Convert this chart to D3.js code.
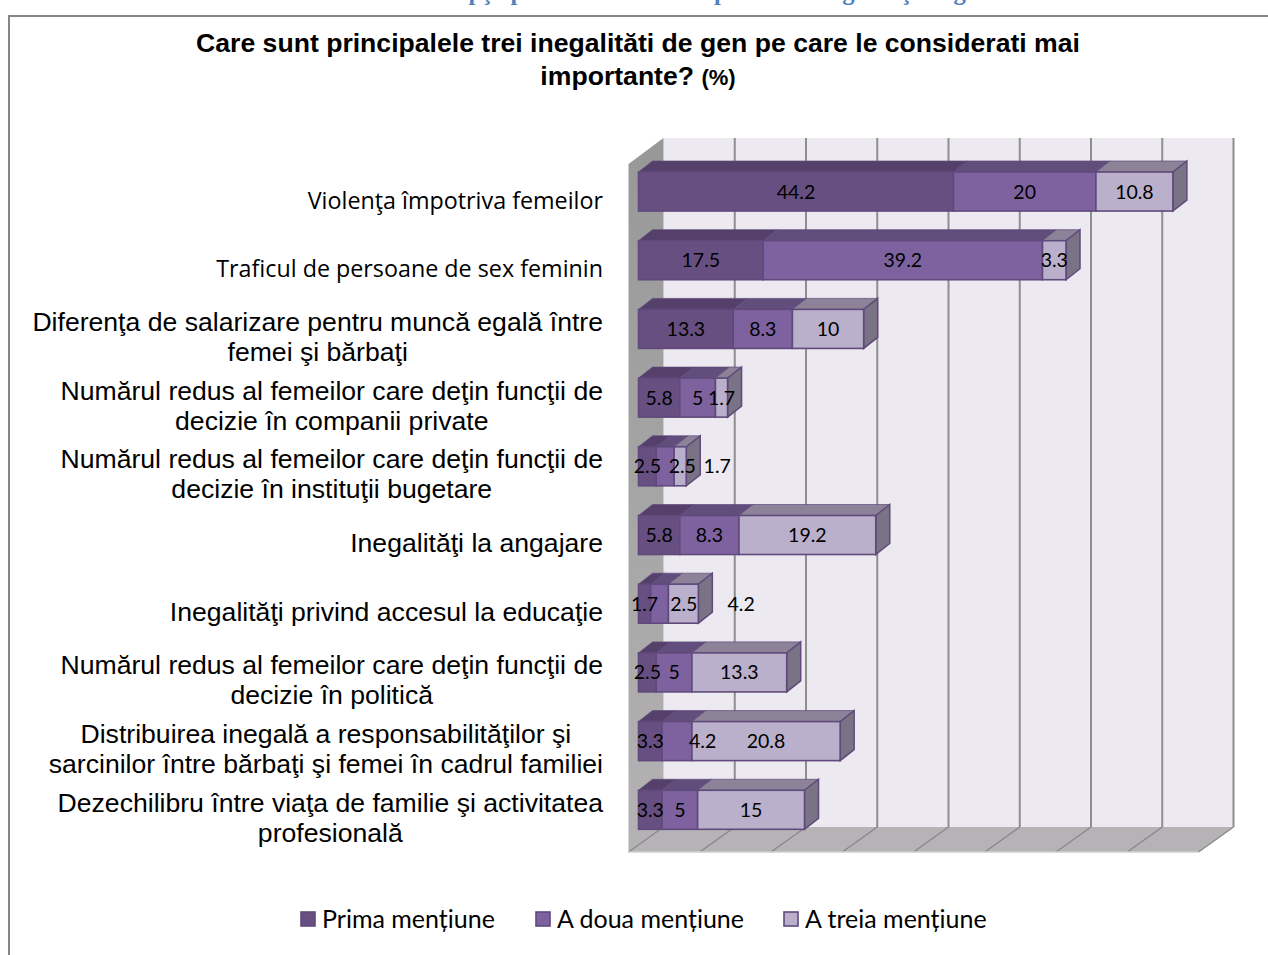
<!DOCTYPE html>
<html>
<head>
<meta charset="utf-8">
<script src="https://cdn.jsdelivr.net/npm/d3@7"></script>
<style>
  html, body { margin: 0; padding: 0; background: #fff; overflow: hidden; }
  svg { display: block; }
</style>
</head>
<body>
<svg class="Chart"></svg>
<script>
/* values */
const categories = [
  ["Violenţa împotriva femeilor"],
  ["Traficul de persoane de sex feminin"],
  ["Diferenţa de salarizare pentru muncă egală între", "femei şi bărbaţi"],
  ["Numărul redus al femeilor care deţin funcţii de", "decizie în companii private"],
  ["Numărul redus al femeilor care deţin funcţii de", "decizie în instituţii bugetare"],
  ["Inegalităţi la angajare"],
  ["Inegalităţi privind accesul la educaţie"],
  ["Numărul redus al femeilor care deţin funcţii de", "decizie în politică"],
  ["Distribuirea inegală a responsabilităţilor şi", "sarcinilor între bărbaţi şi femei în cadrul familiei"],
  ["Dezechilibru între viaţa de familie şi activitatea", "profesională"]
];
const openSansRows = [0, 1];
const series = ["Prima mențiune", "A doua mențiune", "A treia mențiune"];
const prima = [44.2, 17.5, 13.3, 5.8, 2.5, 5.8, 1.7, 2.5, 3.3, 3.3];
const aDoua = [20, 39.2, 8.3, 5, 2.5, 8.3, 2.5, 5, 4.2, 5];
const aTreia = [10.8, 3.3, 10, 1.7, 1.7, 19.2, 4.2, 13.3, 20.8, 15];
const ticks = [0, 10, 20, 30, 40, 50, 60, 70, 80];
// the few labels that were dragged off their segment, in axis units: row_series
const labelNudge = { "4_1": 2.4, "4_2": 5.2, "6_1": 3.4, "6_2": 8.1, "8_1": 3.6 };

const fills = ["#674f82", "#7e62a0", "#bab0cb"];
const tops = ["#54406a", "#624e7c", "#8c8398"];
const sideFill = "#7a7285";
const outline = "#604a7b";

const width = 1268;
const height = 955;
const svg = d3.select('.Chart').attr('width', width).attr('height', height);

const sans = "'Liberation Sans', Arial, sans-serif";
const calibri = "Lato, sans-serif";

const x = d3.scaleLinear().domain([0, 80]).range([638.5, 1208.5]);
const y = d3.scaleBand().domain(d3.range(categories.length)).range([172, 829.3]).paddingInner(0.432);

// 3d offsets
const barDx = 14, barDy = 11;
const wallX = -10, backX = 25;
const backTop = 138, backBottom = 827, frontBottom = 852;
const wallDy = frontBottom - backBottom;

const defs = svg.append('defs');
const wallGrad = defs.append('linearGradient').attr('id', 'wall').attr('x2', 0).attr('y2', 1);
wallGrad.append('stop').attr('offset', 0).attr('stop-color', '#989898');
wallGrad.append('stop').attr('offset', 1).attr('stop-color', '#b4b2b4');

// clipped heading of the page behind the chart
svg.append('text')
  .attr('x', 626).attr('y', 0)
  .attr('text-anchor', 'middle')
  .attr('font-family', "'Liberation Serif', serif")
  .attr('font-weight', 'bold').attr('font-size', 24.7)
  .attr('fill', '#4f81bd')
  .text("Graficul nr. 4 Percepţii privind cele mai importante inegalităţi de gen");

// chart frame, runs off the page right and below
svg.append('rect')
  .attr('x', 9).attr('y', 16).attr('width', width + 20).attr('height', height + 20)
  .attr('fill', '#fff').attr('stroke', '#868686').attr('stroke-width', 2);

const title = svg.append('text')
  .attr('text-anchor', 'middle')
  .attr('font-family', sans).attr('font-weight', 'bold').attr('font-size', 26.6).attr('fill', '#000');
title.append('tspan').attr('x', 638).attr('y', 52)
  .text("Care sunt principalele trei inegalităti de gen pe care le considerati mai");
const title2 = title.append('tspan').attr('x', 638).attr('y', 85);
title2.append('tspan').text("importante? ");
title2.append('tspan').attr('font-size', 22).text("(%)");

// back wall, side wall, floor
const x0 = x(0), xMax = x(80);
svg.append('rect')
  .attr('x', x0 + backX).attr('y', backTop)
  .attr('width', xMax - x0).attr('height', backBottom - backTop)
  .attr('fill', '#ece9f1');
svg.append('path')
  .attr('d', d3.line()([[x0 + wallX, backTop + wallDy + 1], [x0 + backX, backTop], [x0 + backX, backBottom], [x0 + wallX, frontBottom]]) + 'Z')
  .attr('fill', 'url(#wall)');
svg.append('path')
  .attr('d', d3.line()([[x0 + wallX, frontBottom], [xMax + wallX, frontBottom], [xMax + backX, backBottom], [x0 + backX, backBottom]]) + 'Z')
  .attr('fill', '#b6b3b6');

// gridlines up the back wall and across the floor
svg.append('g').selectAll('line.grid').data(ticks.slice(1)).enter().append('line')
  .attr('x1', d => x(d) + backX).attr('x2', d => x(d) + backX)
  .attr('y1', backTop).attr('y2', backBottom)
  .attr('stroke', '#8e8e8e').attr('stroke-width', 2);
svg.append('g').selectAll('line.floor').data(ticks).enter().append('line')
  .attr('x1', d => x(d) + wallX).attr('x2', d => x(d) + backX)
  .attr('y1', frontBottom).attr('y2', backBottom)
  .attr('stroke', '#868686').attr('stroke-width', 1.2);
svg.append('line')
  .attr('x1', x0 + wallX).attr('x2', xMax + wallX)
  .attr('y1', frontBottom).attr('y2', frontBottom)
  .attr('stroke', '#cfcfcf').attr('stroke-width', 1.5);

// stacked segments
const rows = categories.map((c, i) => {
  const vals = [prima[i], aDoua[i], aTreia[i]];
  let sum = 0;
  return vals.map((v, s) => {
    const seg = { row: i, s: s, v: v, start: sum, end: sum + v };
    sum += v;
    return seg;
  });
});

const bh = y.bandwidth();
const rowG = svg.append('g').selectAll('g').data(rows).enter().append('g');

rowG.selectAll('path.top').data(d => d).enter().append('path')
  .attr('d', d => {
    const yy = y(d.row);
    return d3.line()([[x(d.start), yy], [x(d.start) + barDx, yy - barDy], [x(d.end) + barDx, yy - barDy], [x(d.end), yy]]) + 'Z';
  })
  .attr('fill', d => tops[d.s]).attr('stroke', outline).attr('stroke-width', 1)
  .attr('stroke-opacity', 0.7);

rowG.append('path')
  .datum(d => d[2])
  .attr('d', d => {
    const yy = y(d.row), xe = x(d.end);
    return d3.line()([[xe, yy], [xe + barDx, yy - barDy], [xe + barDx, yy + bh - barDy], [xe, yy + bh]]) + 'Z';
  })
  .attr('fill', sideFill).attr('stroke', outline).attr('stroke-width', 1.5);

rowG.selectAll('rect').data(d => d).enter().append('rect')
  .attr('x', d => x(d.start)).attr('y', d => y(d.row))
  .attr('width', d => x(d.end) - x(d.start)).attr('height', bh)
  .attr('fill', d => fills[d.s]).attr('stroke', outline).attr('stroke-width', 1.6);

// data labels go last so they sit over every bar
svg.append('g').selectAll('text').data(rows.flat()).enter().append('text')
  .attr('x', d => x((d.start + d.end) / 2 + (labelNudge[d.row + '_' + d.s] || 0)))
  .attr('y', d => y(d.row) + bh / 2 + 7)
  .attr('text-anchor', 'middle')
  .attr('font-family', calibri).attr('font-size', 19.5).attr('fill', '#000')
  .text(d => d.v);

// category labels: lines centred on each other, block flush right
categories.forEach((lines, i) => {
  const open = openSansRows.includes(i);
  const lh = 30;
  const cy = y(i) + bh / 2 + 8;
  const texts = lines.map((line, k) => svg.append('text')
    .attr('y', cy + (k - (lines.length - 1) / 2) * lh + 9)
    .attr('font-family', open ? "'Open Sans', sans-serif" : sans)
    .attr('font-size', open ? 23.3 : 26.6)
    .attr('fill', '#000')
    .text(line));
  const widths = texts.map(t => t.node().getComputedTextLength());
  const w = d3.max(widths);
  texts.forEach((t, k) => t.attr('x', 603 - w / 2).attr('text-anchor', 'middle'));
});

// legend
const legendX = [300, 535, 783];
const legend = svg.append('g').selectAll('g').data(series).enter().append('g')
  .attr('transform', (d, i) => `translate(${legendX[i]},919)`);
legend.append('rect')
  .attr('x', 1).attr('y', -7).attr('width', 14).attr('height', 14)
  .attr('fill', (d, i) => fills[i]).attr('stroke', outline).attr('stroke-width', 1.6);
legend.append('text')
  .attr('x', 22).attr('y', 9)
  .attr('font-family', calibri).attr('font-size', 25).attr('fill', '#000')
  .text(d => d);
</script>
</body>
</html>
